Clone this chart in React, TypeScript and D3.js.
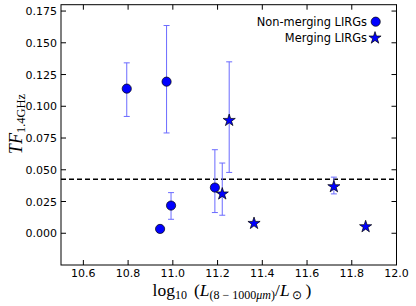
import React from "react";
import * as d3 from "d3";

const nonMergingX = [10.794, 10.972, 10.943, 10.992, 11.188];
const nonMergingY = [0.1139, 0.1194, 0.0034, 0.0218, 0.036];
const nonMergingLo = [0.092, 0.079, null, 0.011, 0.0163];
const nonMergingHi = [0.1342, 0.1636, null, 0.032, 0.0658];

const mergingX = [11.221, 11.252, 11.363, 11.72, 11.862];
const mergingY = [0.0316, 0.0895, 0.0084, 0.0373, 0.0058];
const mergingLo = [0.0142, 0.0479, null, 0.031, null];
const mergingHi = [0.0553, 0.135, null, 0.0442, null];

const thresholdY = 0.0426;
const xTicks = [10.6, 10.8, 11.0, 11.2, 11.4, 11.6, 11.8, 12.0];
const yTicks = [0.0, 0.025, 0.05, 0.075, 0.1, 0.125, 0.15, 0.175];
const legendLabels = ["Non-merging LIRGs", "Merging LIRGs"];

const W = 416, H = 306;
const L = 61, R = 396.5, T = 4.7, B = 265;

export default function App() {
  const x = d3.scaleLinear().domain([10.5, 12.0]).range([L, R]);
  const y = d3.scaleLinear().domain([-0.025, 0.18]).range([B, T]);
  const starPath = d3.symbol().type(d3.symbolStar).size(46)()!;
  const errColor = "#6b6bff";
  const tickFont = { fontFamily: "DejaVu Sans", fontSize: 11 };

  const errBars = (xs: number[], lo: (number | null)[], hi: (number | null)[], key: string) =>
    xs.map((xv, i) => {
      const l = lo[i], h = hi[i];
      if (l == null || h == null) return null;
      const cx = x(xv);
      return (
        <g key={key + i} stroke={errColor} strokeWidth={1}>
          <line x1={cx} x2={cx} y1={y(l)} y2={y(h)} />
          <line x1={cx - 3} x2={cx + 3} y1={y(l)} y2={y(l)} />
          <line x1={cx - 3} x2={cx + 3} y1={y(h)} y2={y(h)} />
        </g>
      );
    });

  return (
    <svg width={W} height={H} style={{ position: "absolute", left: 0, top: 0, background: "#fff" }}>
      {/* dashed threshold */}
      <line x1={L} x2={R} y1={y(thresholdY)} y2={y(thresholdY)} stroke="#000" strokeWidth={1.5} strokeDasharray="5,3" />
      {errBars(nonMergingX, nonMergingLo, nonMergingHi, "n")}
      {errBars(mergingX, mergingLo, mergingHi, "m")}
      {nonMergingX.map((xv, i) => (
        <circle key={"c" + i} cx={x(xv)} cy={y(nonMergingY[i])} r={4.6} fill="#0000ff" stroke="#000" strokeWidth={0.7} />
      ))}
      {mergingX.map((xv, i) => (
        <path key={"s" + i} d={starPath} transform={`translate(${x(xv)},${y(mergingY[i]) + 0.8})`} fill="#0000ff" stroke="#000" strokeWidth={0.7} />
      ))}
      {/* frame */}
      <rect x={L} y={T} width={R - L} height={B - T} fill="none" stroke="#000" strokeWidth={1} />
      {/* ticks */}
      {xTicks.map((t) => (
        <g key={"xt" + t}>
          <line x1={x(t)} x2={x(t)} y1={B} y2={B - 5} stroke="#000" />
          <line x1={x(t)} x2={x(t)} y1={T} y2={T + 5} stroke="#000" />
          <text x={x(t)} y={B + 12} textAnchor="middle" {...tickFont}>{t.toFixed(1)}</text>
        </g>
      ))}
      {yTicks.map((t) => (
        <g key={"yt" + t}>
          <line x1={L} x2={L + 5} y1={y(t)} y2={y(t)} stroke="#000" />
          <line x1={R} x2={R - 5} y1={y(t)} y2={y(t)} stroke="#000" />
          <text x={L - 4} y={y(t) + 4} textAnchor="end" {...tickFont}>{t.toFixed(3)}</text>
        </g>
      ))}
      {/* legend */}
      <text x={367} y={25.5} textAnchor="end" fontFamily="DejaVu Sans" fontSize={11.4}>{legendLabels[0]}</text>
      <circle cx={375.7} cy={21.7} r={4.6} fill="#0000ff" stroke="#000" strokeWidth={0.7} />
      <text x={367} y={41.5} textAnchor="end" fontFamily="DejaVu Sans" fontSize={11.4}>{legendLabels[1]}</text>
      <path d={starPath} transform="translate(375,38)" fill="#0000ff" stroke="#000" strokeWidth={0.7} />
      {/* y label */}
      <text transform="translate(21.5,124) rotate(-90)" textAnchor="middle" fontFamily="Liberation Serif" fontSize={18}>
        <tspan fontStyle="italic">TF</tspan>
        <tspan fontSize={12.5} dy={3}>1.4GHz</tspan>
      </text>
      {/* x label */}
      <text x={232} y={295.5} textAnchor="middle" fontFamily="Liberation Serif" fontSize={17.5}>
        <tspan>log</tspan>
        <tspan fontSize={12} dy={3.5}>10</tspan>
        <tspan dy={-3.5}>{"\u2009\u2009(" }</tspan>
        <tspan fontStyle="italic">L</tspan>
        <tspan fontSize={12} dy={3.5}>(8 − 1000</tspan>
        <tspan fontSize={12} fontStyle="italic">μm</tspan>
        <tspan fontSize={12}>)</tspan>
        <tspan dy={-3.5}>/</tspan>
        <tspan fontStyle="italic">L</tspan>
        <tspan fontSize={12} dy={3.5}>{"\u2009⊙"}</tspan>
        <tspan dy={-3.5}>{"\u2009)"}</tspan>
      </text>
    </svg>
  );
}
